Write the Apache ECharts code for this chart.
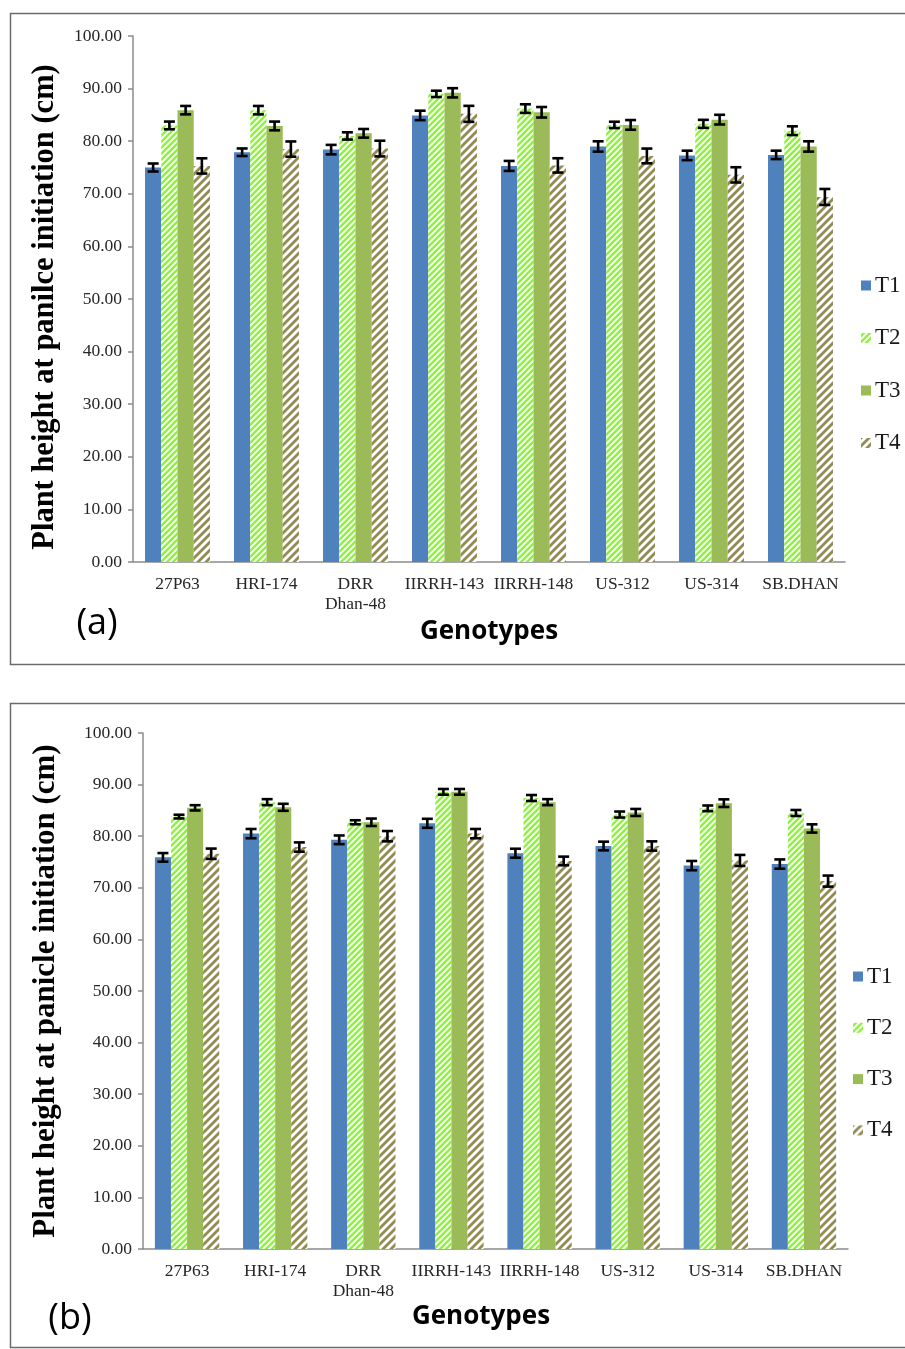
<!DOCTYPE html>
<html>
<head>
<meta charset="utf-8">
<script src="https://cdn.jsdelivr.net/npm/echarts@6/dist/echarts.min.js"></script>
<style>
html,body{margin:0;padding:0;background:#fff;overflow:hidden;}
#chart{width:905px;height:1349px;}
</style>
</head>
<body>
<div id="chart"></div>
<script>
// ---- data ----
var categories = ['27P63','HRI-174','DRR\nDhan-48','IIRRH-143','IIRRH-148','US-312','US-314','SB.DHAN'];
var seriesNames = ['T1','T2','T3','T4'];
var yTicks = [0,10,20,30,40,50,60,70,80,90,100];

// panel (a)
var a_T1 = [75.0, 77.9, 78.4, 84.9, 75.3, 79.0, 77.3, 77.4];
var a_T2 = [83.0, 85.9, 81.0, 89.0, 86.2, 83.1, 83.3, 82.0];
var a_T3 = [85.9, 82.9, 81.5, 89.2, 85.5, 83.1, 84.1, 79.0];
var a_T4 = [75.3, 78.5, 78.6, 85.2, 75.4, 77.2, 73.6, 69.4];
var a_T1e = [0.76, 0.72, 0.90, 0.90, 0.95, 0.98, 0.90, 0.80];
var a_T2e = [0.73, 0.80, 0.69, 0.60, 0.82, 0.60, 0.76, 0.83];
var a_T3e = [0.80, 0.83, 0.82, 0.88, 1.00, 0.92, 0.92, 0.98];
var a_T4e = [1.45, 1.45, 1.49, 1.52, 1.36, 1.40, 1.45, 1.52];

// panel (b)
var b_T1 = [75.9, 80.5, 79.3, 82.5, 76.7, 78.1, 74.3, 74.6];
var b_T2 = [83.8, 86.6, 82.7, 88.6, 87.4, 84.2, 85.4, 84.5];
var b_T3 = [85.5, 85.6, 82.7, 88.6, 86.6, 84.6, 86.4, 81.5];
var b_T4 = [76.6, 77.9, 80.0, 80.5, 75.2, 78.1, 75.3, 71.3];
var b_T1e = [0.83, 0.90, 0.84, 0.87, 0.87, 0.84, 0.90, 0.90];
var b_T2e = [0.36, 0.58, 0.39, 0.55, 0.58, 0.58, 0.55, 0.58];
var b_T3e = [0.51, 0.68, 0.72, 0.55, 0.58, 0.68, 0.74, 0.80];
var b_T4e = [1.00, 0.90, 1.00, 0.90, 0.84, 0.90, 1.07, 1.07];

// ---- patterns ----
function stripes(size, bg, fg, lw) {
  var c = document.createElement('canvas');
  c.width = size; c.height = size;
  var g = c.getContext('2d');
  g.fillStyle = bg; g.fillRect(0, 0, size, size);
  g.strokeStyle = fg; g.lineWidth = lw;
  g.beginPath();
  g.moveTo(0, size); g.lineTo(size, 0);
  g.moveTo(-size / 2, size / 2); g.lineTo(size / 2, -size / 2);
  g.moveTo(size / 2, size * 1.5); g.lineTo(size * 1.5, size / 2);
  g.stroke();
  return {image: c, repeat: 'repeat'};
}
var colT1 = '#4F81BD';
var colT2 = stripes(6, '#8CF53A', '#ffffff', 1.8);
var colT3 = '#9BBB59';
var colT4 = stripes(8, '#ffffff', '#948A54', 2.8);
var colors = [colT1, colT2, colT3, colT4];

var GAP = 0.27;
var serif = '"Liberation Serif", "Times New Roman", serif';

function barSeries(name, data, idx, col) {
  return {
    name: name, type: 'bar', xAxisIndex: idx, yAxisIndex: idx,
    data: data, barGap: '0%', barCategoryGap: '27%',
    itemStyle: {color: col}, emphasis: {disabled: true}, silent: true
  };
}
function errSeries(name, vals, errs, idx, slot) {
  var d = vals.map(function (v, i) { return [i, v, errs[i]]; });
  return {
    name: name, type: 'custom', xAxisIndex: idx, yAxisIndex: idx, data: d, z: 10, silent: true,
    renderItem: function (params, api) {
      var i = api.value(0), v = api.value(1), e = api.value(2);
      var band = api.size([1, 0])[0];
      var bw = band * (1 - GAP) / 4;
      var c = api.coord([i, v]);
      var x = c[0] + (slot - 1.5) * bw;
      var yt = api.coord([i, v + e])[1];
      var yb = api.coord([i, v - e])[1];
      var hw = 5.5;
      var st = {stroke: '#000', lineWidth: 2.6};
      return {type: 'group', children: [
        {type: 'line', shape: {x1: x, y1: yt, x2: x, y2: yb}, style: st},
        {type: 'line', shape: {x1: x - hw, y1: yt, x2: x + hw, y2: yt}, style: st},
        {type: 'line', shape: {x1: x - hw, y1: yb, x2: x + hw, y2: yb}, style: st}
      ]};
    }
  };
}

var aVals = [a_T1, a_T2, a_T3, a_T4], aErr = [a_T1e, a_T2e, a_T3e, a_T4e];
var bVals = [b_T1, b_T2, b_T3, b_T4], bErr = [b_T1e, b_T2e, b_T3e, b_T4e];
var series = [];
[0, 1].forEach(function (p) {
  var vals = p === 0 ? aVals : bVals;
  for (var k = 0; k < 4; k++) series.push(barSeries(seriesNames[k], vals[k], p, colors[k]));
});
[0, 1].forEach(function (p) {
  var vals = p === 0 ? aVals : bVals, errs = p === 0 ? aErr : bErr;
  for (var k = 0; k < 4; k++) series.push(errSeries(seriesNames[k], vals[k], errs[k], p, k));
});

function xAx(idx) {
  return {
    type: 'category', gridIndex: idx, data: categories,
    axisLine: {lineStyle: {color: '#8c8c8c', width: 1.5}},
    axisTick: {length: 5, lineStyle: {color: '#8c8c8c', width: 1.5}},
    axisLabel: {fontFamily: serif, fontSize: 17.5, color: '#262626', margin: 12, lineHeight: 20, interval: 0}
  };
}
function yAx(idx) {
  return {
    type: 'value', gridIndex: idx, min: yTicks[0], max: yTicks[yTicks.length - 1], interval: 10,
    splitLine: {show: false},
    axisLine: {show: true, lineStyle: {color: '#8c8c8c', width: 1.5}},
    axisTick: {show: true, length: 5, lineStyle: {color: '#8c8c8c', width: 1.5}},
    axisLabel: {fontFamily: serif, fontSize: 17.5, color: '#262626', margin: 11,
      formatter: function (v) { return v.toFixed(2); }}
  };
}
function legendAt(left, top, gap) {
  return {
    orient: 'vertical', left: left, top: top, itemGap: gap, itemWidth: 10, itemHeight: 10,
    icon: 'rect', data: seriesNames, selectedMode: false,
    textStyle: {fontFamily: serif, fontSize: 23, color: '#1a1a1a', padding: [0, 0, 0, -1]}
  };
}

var chart = echarts.init(document.getElementById('chart'), null, {renderer: 'canvas'});
chart.setOption({
  animation: false,
  backgroundColor: '#fff',
  grid: [
    {left: 133, top: 36, width: 712, height: 526},
    {left: 143, top: 733, width: 705, height: 516}
  ],
  xAxis: [xAx(0), xAx(1)],
  yAxis: [yAx(0), yAx(1)],
  legend: [legendAt(856, 269, 29.5), legendAt(848, 960, 28.3)],
  series: series,
  graphic: [
    {type: 'rect', shape: {x: 10.5, y: 13.5, width: 1000, height: 651}, style: {fill: 'none', stroke: '#6b6b6b', lineWidth: 1.5}},
    {type: 'rect', shape: {x: 10.5, y: 703.5, width: 1000, height: 644}, style: {fill: 'none', stroke: '#6b6b6b', lineWidth: 1.5}},
    {type: 'text', x: 45, y: 307, rotation: Math.PI / 2,
      style: {text: 'Plant height at panilce initiation (cm)', font: 'bold 30.5px ' + serif, fill: '#000', textAlign: 'center', textVerticalAlign: 'middle'}},
    {type: 'text', x: 46, y: 991, rotation: Math.PI / 2,
      style: {text: 'Plant height at panicle initiation (cm)', font: 'bold 31px ' + serif, fill: '#000', textAlign: 'center', textVerticalAlign: 'middle'}},
    {type: 'text', x: 489, y: 632,
      style: {text: 'Genotypes', font: 'bold 26px "Open Sans", sans-serif', fill: '#000', textAlign: 'center', textVerticalAlign: 'middle'}},
    {type: 'text', x: 481, y: 1317,
      style: {text: 'Genotypes', font: 'bold 26px "Open Sans", sans-serif', fill: '#000', textAlign: 'center', textVerticalAlign: 'middle'}},
    {type: 'text', x: 97, y: 624,
      style: {text: '(a)', font: '36px "Open Sans", sans-serif', fill: '#000', textAlign: 'center', textVerticalAlign: 'middle'}},
    {type: 'text', x: 70, y: 1319,
      style: {text: '(b)', font: '36px "Open Sans", sans-serif', fill: '#000', textAlign: 'center', textVerticalAlign: 'middle'}}
  ]
});
</script>
</body>
</html>
